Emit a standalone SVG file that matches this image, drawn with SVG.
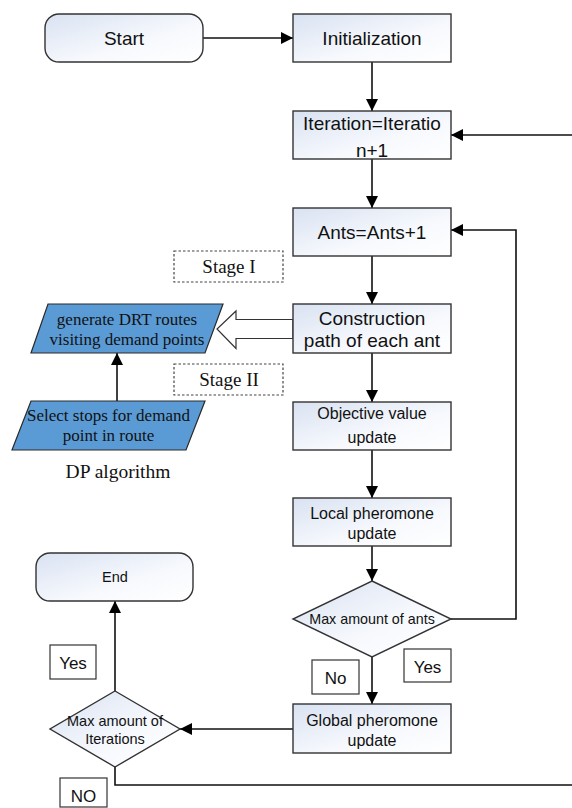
<svg xmlns="http://www.w3.org/2000/svg" width="572" height="808" viewBox="0 0 572 808">
<style>
.node{fill:url(#g);stroke:#333;stroke-width:1.4}
.para{fill:#5b9bd5;stroke:#2a2a2a;stroke-width:1.2}
.lbl{fill:#fff;stroke:#333;stroke-width:1.2}
.dash{fill:#fff;stroke:#444;stroke-width:1.2;stroke-dasharray:2.5 2}
.c{fill:none;stroke:#111;stroke-width:1.6}
.arr{marker-end:url(#ah)}
.t{font-family:"Liberation Sans",Arial,sans-serif;fill:#111;text-anchor:middle}
.s{font-family:"Liberation Serif","Times New Roman",serif;fill:#111;text-anchor:middle}
.big{font-size:19px}
.mid{font-size:16px}
</style>
<defs>
<linearGradient id="g" x1="0" y1="0" x2="1" y2="1">
<stop offset="0" stop-color="#d9e2f2"/>
<stop offset="0.6" stop-color="#f7f9fd"/>
<stop offset="1" stop-color="#ffffff"/>
</linearGradient>
<marker id="ah" markerUnits="userSpaceOnUse" markerWidth="12" markerHeight="12" refX="12" refY="6" orient="auto">
<path d="M0,0 L12,6 L0,12 z" fill="#000"/>
</marker>
</defs>
<g id="connectors">
<line class="c arr" x1="203" y1="38" x2="293" y2="38"/>
<line class="c arr" x1="372" y1="62" x2="372" y2="111"/>
<line class="c arr" x1="372" y1="159" x2="372" y2="208"/>
<line class="c arr" x1="372" y1="256" x2="372" y2="304"/>
<line class="c arr" x1="372" y1="353" x2="372" y2="402"/>
<line class="c arr" x1="372" y1="450" x2="372" y2="498"/>
<line class="c arr" x1="372" y1="546" x2="372" y2="581"/>
<line class="c arr" x1="372" y1="657" x2="372" y2="704"/>
<line class="c arr" x1="293" y1="729" x2="180" y2="729"/>
<line class="c arr" x1="115" y1="691" x2="115" y2="601"/>
<polyline class="c arr" points="451,619 516,619 516,230 451,230"/>
<polyline class="c" points="115,767 115,785 572,785"/>
<line class="c arr" x1="572" y1="135" x2="451" y2="135"/>
<line class="c arr" x1="117" y1="401" x2="117" y2="353"/>
<polygon points="293,319.5 236,319.5 236,311 217,329 236,348.5 236,338.5 293,338.5" fill="#fff" stroke="#333" stroke-width="1.2"/>
</g>
<g id="start">
<rect class="node" x="45" y="14" width="158" height="48" rx="14"/>
<text class="t big" x="124" y="45">Start</text>
</g>
<g id="init">
<rect class="node" x="293" y="14" width="158" height="48"/>
<text class="t big" x="372" y="45">Initialization</text>
</g>
<g id="iteration">
<rect class="node" x="293" y="111" width="158" height="48"/>
<text class="t big" x="372" y="129.5">Iteration=Iteratio</text>
<text class="t big" x="372" y="156.5">n+1</text>
</g>
<g id="ants">
<rect class="node" x="293" y="208" width="158" height="48"/>
<text class="t big" x="372" y="239">Ants=Ants+1</text>
</g>
<g id="construction">
<rect class="node" x="293" y="304" width="158" height="49"/>
<text class="t big" x="372" y="324.5">Construction</text>
<text class="t big" x="372" y="347">path of each ant</text>
</g>
<g id="objective">
<rect class="node" x="293" y="402" width="158" height="48"/>
<text class="t mid" x="372" y="419">Objective value</text>
<text class="t mid" x="372" y="442.5">update</text>
</g>
<g id="local">
<rect class="node" x="293" y="498" width="158" height="48"/>
<text class="t mid" x="372" y="518.5">Local pheromone</text>
<text class="t mid" x="372" y="538.5">update</text>
</g>
<g id="maxants">
<polygon class="node" points="372,581 451,619 372,657 293,619"/>
<text class="t" x="372" y="624" font-size="14.3">Max amount of ants</text>
</g>
<g id="global">
<rect class="node" x="293" y="704" width="158" height="49"/>
<text class="t mid" x="372" y="725.5">Global pheromone</text>
<text class="t mid" x="372" y="746">update</text>
</g>
<g id="maxiter">
<polygon class="node" points="115,691 180,729 115,767 50,729"/>
<text class="t" x="115" y="725.5" font-size="14.5">Max amount of</text>
<text class="t" x="115" y="744" font-size="14.5">Iterations</text>
</g>
<g id="end">
<rect class="node" x="36" y="553" width="157" height="48" rx="14"/>
<text class="t" x="115" y="582" font-size="14.5">End</text>
</g>
<g id="yes-right">
<rect class="lbl" x="404" y="649" width="47" height="33"/>
<text class="t" x="427.5" y="672.5" font-size="17">Yes</text>
</g>
<g id="no-mid">
<rect class="lbl" x="312" y="660" width="47" height="34"/>
<text class="t" x="335.5" y="683.5" font-size="17">No</text>
</g>
<g id="yes-left">
<rect class="lbl" x="50" y="645" width="46" height="34"/>
<text class="t" x="73" y="668.5" font-size="17">Yes</text>
</g>
<g id="no-bottom">
<rect class="lbl" x="60" y="778" width="47" height="29"/>
<text class="t" x="83.5" y="802" font-size="17">NO</text>
</g>
<g id="stage1">
<rect class="dash" x="174" y="251" width="109" height="31"/>
<text class="s" x="229" y="273" font-size="19">Stage I</text>
</g>
<g id="stage2">
<rect class="dash" x="174" y="364" width="109" height="31"/>
<text class="s" x="229" y="386" font-size="19">Stage II</text>
</g>
<g id="generate">
<polygon class="para" points="48,304 223,304 205,353 31,353"/>
<text class="s" x="127" y="325" font-size="17">generate DRT routes</text>
<text class="s" x="127" y="345" font-size="17">visiting demand points</text>
</g>
<g id="select">
<polygon class="para" points="31,401 205,401 186,450 12,450"/>
<text class="s" x="108.5" y="421" font-size="17">Select stops for demand</text>
<text class="s" x="108.5" y="441" font-size="17">point in route</text>
</g>
<g id="dp">
<text class="s" x="118" y="478" font-size="19.5">DP algorithm</text>
</g>
</svg>
